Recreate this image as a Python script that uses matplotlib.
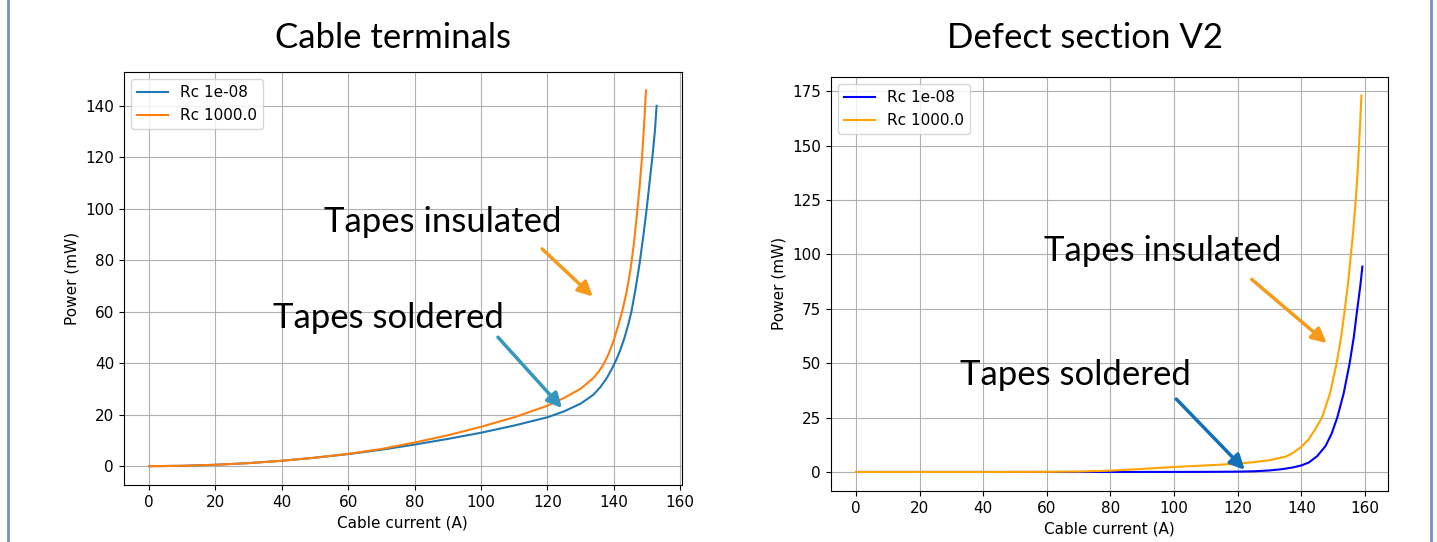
import matplotlib.pyplot as plt
from matplotlib.lines import Line2D

# Cable terminals: power vs current
i_term_solder = [0, 10, 20, 30, 40, 50, 60, 70, 80, 90, 100, 110, 120, 125, 130, 133.8, 136,
                 138, 139.5, 140.8, 142, 143.2, 144.3, 145.3, 146.5, 147.8, 149, 149.9, 150.8,
                 151.7, 152.4, 152.9]
p_term_solder = [0, 0.15, 0.55, 1.2, 2.1, 3.3, 4.7, 6.4, 8.4, 10.6, 13.0, 15.8, 19.0, 21.3,
                 24.3, 27.7, 30.8, 34.5, 38, 41.5, 45.3, 49.8, 54.8, 60, 68.5, 79, 90.5, 100,
                 110.5, 121, 130.5, 140]
i_term_insul = [0, 10, 20, 30, 40, 50, 60, 70, 80, 90, 100, 110, 120, 125, 130, 133.8, 135.5,
                137, 138.5, 140, 141.3, 142.6, 143.9, 145.1, 146, 146.9, 147.8, 148.5, 149,
                149.4, 149.7]
p_term_insul = [0, 0.15, 0.55, 1.2, 2.1, 3.3, 4.8, 6.7, 9.2, 12, 15.3, 19, 23.5, 26.5, 30.1,
                34.2, 36.8, 39.8, 43.8, 49, 54.5, 60.5, 68, 77, 86, 97, 109, 120, 130, 139, 146]

# Defect section V2: power vs current
i_def_solder = [0, 20, 40, 60, 80, 100, 110, 120, 125, 130, 134, 137.1, 140, 142.3, 145,
                147.6, 149.5, 151.3, 153.3, 155.2, 156.5, 157.6, 158.5, 159.2]
p_def_solder = [0, 0, 0, 0, 0, 0.02, 0.05, 0.15, 0.3, 0.7, 1.3, 2.0, 3.0, 4.3, 7.3, 11.9,
                17.5, 25, 36, 50, 62, 75, 85, 94.4]
i_def_insul = [0, 20, 40, 60, 70, 80, 90, 100, 110, 120, 125, 130, 135, 137.1, 140, 142.3,
               144.5, 146.5, 149, 151.1, 152.5, 153.7, 154.7, 155.6, 156.4, 157.1, 157.7,
               158.1, 158.5, 158.9]
p_def_insul = [0, 0, 0, 0.05, 0.2, 0.6, 1.4, 2.3, 3.0, 3.8, 4.5, 5.4, 7.0, 8.5, 11.5, 15,
               20, 25, 36, 50, 62, 75, 87, 100, 112, 125, 138, 149, 160.5, 173]

labels = ['Rc 1e-08', 'Rc 1000.0']

plt.rcParams['font.size'] = 11

fig = plt.figure(figsize=(14.37, 5.42), dpi=100)
ax1 = fig.add_axes([0.0861, 0.1052, 0.3885, 0.7627])
ax2 = fig.add_axes([0.5781, 0.0945, 0.3876, 0.7640])

ax1.plot(i_term_solder, p_term_solder, color='tab:blue', label=labels[0])
ax1.plot(i_term_insul, p_term_insul, color='tab:orange', label=labels[1])
ax2.plot(i_def_solder, p_def_solder, color='blue', label=labels[0])
ax2.plot(i_def_insul, p_def_insul, color='orange', label=labels[1])

for ax in (ax1, ax2):
    ax.grid(True)
    ax.set_xlabel('Cable current (A)')
    ax.set_ylabel('Power (mW)')
    ax.legend(loc='upper left')
    ax.set_xticks(range(0, 161, 20))

ax1.set_yticks(range(0, 141, 20))
ax2.set_yticks(range(0, 176, 25))

# titles and notes in slide font
tfont = dict(family='Lato', fontsize=25, color='black')
fig.text(0.2735, 0.93, 'Cable terminals', ha='center', va='center', **tfont)
fig.text(0.755, 0.93, 'Defect section V2', ha='center', va='center', **tfont)

def note(ax, text, txy, start, tip, col):
    ax.text(txy[0], txy[1], text, ha='left', va='center', clip_on=False, **tfont)
    ax.annotate('', xy=tip, xytext=start,
                arrowprops=dict(arrowstyle='-|>', color=col, lw=2.5,
                                mutation_scale=22, shrinkA=0, shrinkB=0))

note(ax1, 'Tapes insulated', (52.6, 95), (118.4, 84.4), (133.7, 65.9), '#f79a1c')
note(ax1, 'Tapes soldered', (37.2, 57.4), (105.1, 50.1), (124.4, 22.6), '#3696bd')
note(ax2, 'Tapes insulated', (59, 101.5), (124.4, 88.5), (148.0, 59.2), '#f79a1c')
note(ax2, 'Tapes soldered', (32.7, 44.6), (100.7, 33.5), (122.2, 1.0), '#1270b8')

# slide frame edges
for xf in (8 / 1437, 1431 / 1437):
    fig.add_artist(Line2D([xf, xf], [0, 1], transform=fig.transFigure,
                          color='#7493c4', lw=2))

fig.savefig('out.png', dpi=100)
